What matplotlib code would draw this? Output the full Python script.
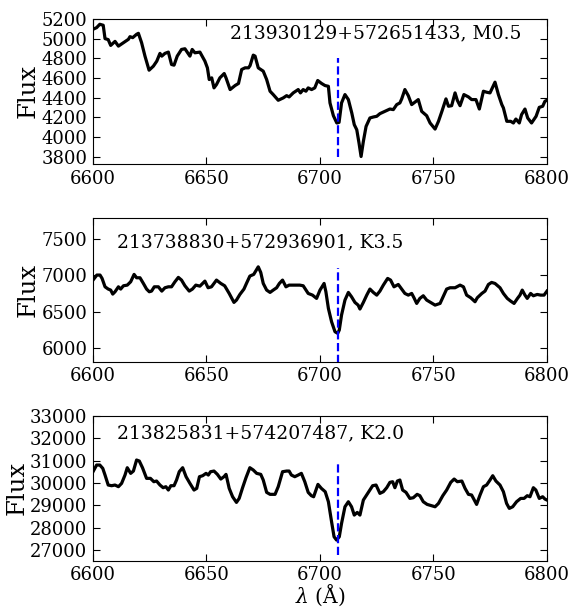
import matplotlib
matplotlib.use("Agg")
import matplotlib.pyplot as plt

plt.rcParams['font.family'] = ['DejaVu Serif']
plt.rcParams['mathtext.fontset'] = 'dejavuserif'

# Panel 1: 213930129+572651433, M0.5
wl1 = [6600, 6601.6, 6603, 6604.5, 6605.3, 6606.7, 6607.8, 6609.7, 6611.2, 6613.4, 6615.6, 6616.3,
       6617.5, 6619.2, 6620, 6621.4, 6622.9, 6624.7, 6626.6, 6628.1, 6629.5, 6630.3, 6631.7, 6633.2,
       6634.6, 6635.7, 6637.1, 6639, 6640.5, 6642.7, 6643.7, 6644.9, 6647.1, 6649.3, 6650.4, 6651.2,
       6652.3, 6653.3, 6654.4, 6655.9, 6657.8, 6658.6, 6660.4, 6662.6, 6664.1, 6665.5, 6667, 6668.5,
       6669.2, 6670.6, 6671.4, 6672.8, 6675, 6676.5, 6678, 6679.4, 6681.6, 6683.8, 6685.3, 6686.4,
       6688.2, 6690.4, 6691.4, 6692.6, 6693.8, 6694.8, 6696.3, 6697.7, 6699, 6700.7, 6702.2, 6703.7,
       6704.4, 6705.9, 6707.4, 6708.4, 6709.5, 6711, 6712.5, 6714, 6715.1, 6716.2, 6717.2, 6718.1,
       6719.1, 6720.3, 6722, 6723.5, 6725, 6726.4, 6728.6, 6730.8, 6732.3, 6733.8, 6735.2, 6736,
       6737.4, 6738.9, 6740.4, 6741.8, 6743.3, 6744.8, 6747, 6748.5, 6750.7, 6752.2, 6753.7, 6755.5,
       6756.6, 6758, 6759.5, 6760.5, 6761.7, 6763.4, 6765.4, 6766.8, 6768.7, 6770.2, 6772, 6773.4,
       6774.9, 6777.1, 6778.6, 6780.1, 6780.8, 6782.3, 6784, 6785.2, 6786.3, 6787.8, 6788.8, 6790.3,
       6791.5, 6793.2, 6795.2, 6796.6, 6798.1, 6799.1, 6800]
flux1 = [5095, 5112, 5146, 5136, 5000, 4990, 4931, 4972, 4924, 4959, 4993, 5020,
         5010, 5044, 5054, 4959, 4822, 4679, 4720, 4771, 4850, 4822, 4850, 4863,
         4737, 4730, 4822, 4890, 4897, 4822, 4890, 4856, 4863, 4771, 4703, 4584,
         4601, 4499, 4533, 4601, 4645, 4601, 4482, 4523, 4544, 4686, 4703, 4703,
         4726, 4832, 4822, 4703, 4669, 4584, 4465, 4431, 4373, 4397, 4420, 4407,
         4448, 4482, 4448, 4482, 4465, 4499, 4482, 4499, 4574, 4544, 4523, 4515,
         4346, 4216, 4142, 4148, 4346, 4431, 4380, 4244, 4125, 4073, 3937, 3801,
         3954, 4107, 4193, 4203, 4210, 4237, 4260, 4284, 4278, 4329, 4346, 4387,
         4482, 4420, 4329, 4353, 4380, 4260, 4216, 4142, 4080, 4159, 4260, 4387,
         4312, 4318, 4448, 4373, 4318, 4431, 4407, 4380, 4380, 4284, 4465, 4455,
         4448, 4557, 4431, 4329, 4295, 4159, 4159, 4142, 4182, 4142, 4227, 4284,
         4193, 4142, 4210, 4301, 4312, 4363, 4373]

# Panel 2: 213738830+572936901, K3.5
wl2 = [6600, 6601.7, 6603.1, 6604, 6605.3, 6606.7, 6607.8, 6608.7, 6609.7, 6611.2, 6612.2, 6613.4,
       6615.1, 6616.6, 6618.1, 6619.2, 6620.7, 6622.2, 6623.6, 6624.8, 6625.8, 6627, 6628.8, 6630.3,
       6631.7, 6633.2, 6634.6, 6636.1, 6637.6, 6639, 6640.5, 6642.4, 6643.8, 6645.3, 6647.1, 6649.3,
       6650.7, 6652.2, 6654.4, 6656.3, 6658, 6660, 6662.1, 6663.2, 6664.7, 6666.5, 6667.6, 6669.1,
       6670.8, 6672.8, 6673.9, 6675, 6676.5, 6678, 6679.4, 6680.9, 6682.1, 6683.5, 6685, 6686.4,
       6687.9, 6689.3, 6691.1, 6692.6, 6694.8, 6696.7, 6698.5, 6700, 6701.8, 6702.6, 6703.7, 6705.1,
       6706.6, 6707.8, 6708.5, 6709.5, 6711, 6712.5, 6713.9, 6715.4, 6716.8, 6717.6, 6719.1, 6720.6,
       6722, 6723.5, 6725, 6726.4, 6727.9, 6729.8, 6731.1, 6732.6, 6734.5, 6736, 6737.4, 6738.9,
       6740.4, 6741.4, 6742.6, 6744, 6745.5, 6747, 6748.7, 6750.7, 6752.9, 6754.6, 6755.8, 6757.3,
       6759.5, 6761.7, 6763.2, 6764.6, 6766.4, 6768.3, 6769.3, 6771.3, 6772.7, 6774.2, 6775.6, 6777.1,
       6779.3, 6780.8, 6782.5, 6784, 6785.5, 6787, 6788.1, 6789.1, 6790.3, 6791.3, 6792.8, 6794,
       6795.7, 6797.2, 6798.7, 6800]
flux2 = [6934, 7003, 7003, 6957, 6842, 6811, 6797, 6742, 6774, 6842, 6811, 6856,
         6865, 6911, 7012, 6966, 6966, 6888, 6811, 6774, 6783, 6842, 6842, 6783,
         6829, 6842, 6842, 6911, 6971, 6934, 6856, 6783, 6811, 6865, 6851, 6920,
         6829, 6842, 6934, 6888, 6856, 6751, 6628, 6660, 6737, 6811, 6888, 6989,
         7012, 7116, 7039, 6888, 6797, 6765, 6797, 6829, 6888, 6934, 6842, 6865,
         6865, 6865, 6865, 6856, 6751, 6728, 6683, 6797, 6888, 6774, 6546, 6363,
         6226, 6204, 6249, 6455, 6660, 6765, 6705, 6628, 6591, 6537, 6628, 6728,
         6811, 6765, 6728, 6783, 6865, 6957, 6934, 6842, 6874, 6811, 6751, 6728,
         6751, 6692, 6614, 6683, 6719, 6660, 6628, 6591, 6614, 6728, 6811, 6829,
         6829, 6865, 6842, 6728, 6692, 6637, 6692, 6751, 6783, 6874, 6902, 6888,
         6829, 6751, 6683, 6646, 6614, 6683, 6728, 6797, 6728, 6683, 6751, 6719,
         6737, 6728, 6728, 6783]

# Panel 3: 213825831+574207487, K2.0
wl3 = [6600, 6601.6, 6603, 6604.3, 6605.3, 6606.7, 6608.2, 6609.7, 6611.2, 6612.6, 6614.1, 6615.1,
       6616.6, 6617.8, 6619.2, 6620.4, 6621.8, 6623.6, 6625.3, 6626.8, 6628, 6629.5, 6630.9, 6632.1,
       6633.2, 6634.3, 6635.7, 6636.8, 6638, 6639.5, 6641, 6642.7, 6644.5, 6645.7, 6646.9, 6648.3,
       6649.8, 6650.8, 6651.8, 6653.3, 6654.8, 6656.3, 6657.7, 6658.6, 6660, 6661.5, 6663.2, 6664.4,
       6665.9, 6667.4, 6669.1, 6670.6, 6672.1, 6673.9, 6675, 6676.5, 6678, 6680.2, 6681.6, 6683.5,
       6685.3, 6686.4, 6687.4, 6688.9, 6690.4, 6691.8, 6693.3, 6694.8, 6696.2, 6697.2, 6699.1, 6700.6,
       6702.3, 6703.7, 6705.1, 6706.2, 6707.3, 6708.5, 6709.5, 6711, 6712.5, 6713.9, 6715.1, 6716.4,
       6717.6, 6719.1, 6721.3, 6723.2, 6724.7, 6726.4, 6727.9, 6729.4, 6730.8, 6732, 6733, 6734.1,
       6735.2, 6736.4, 6737.9, 6739.6, 6741.1, 6742.8, 6744, 6745.5, 6747.2, 6749.2, 6750.7, 6752.2,
       6754.1, 6755.8, 6757.6, 6759.1, 6760.5, 6762.5, 6763.9, 6765.4, 6766.8, 6769, 6770.5, 6772,
       6773.4, 6774.9, 6776.1, 6777.5, 6779.3, 6780.8, 6782.2, 6783.4, 6784.9, 6786.6, 6788.4, 6789.9,
       6791.3, 6792.5, 6794, 6795.1, 6796.6, 6798.1, 6799.1, 6800]
flux3 = [30504, 30802, 30802, 30654, 30356, 29911, 29881, 29911, 29837, 29985, 30356, 30683,
         30431, 30534, 31025, 30980, 30683, 30208, 30208, 30059, 30089, 29911, 29792, 29837,
         29688, 29881, 29881, 30134, 30504, 30683, 30282, 29985, 29688, 29763, 30282, 30326,
         30431, 30356, 30504, 30534, 30386, 30178, 30282, 30386, 29763, 29389, 29137, 29315,
         29792, 30237, 30683, 30580, 30431, 30386, 30134, 29584, 29496, 29496, 29837, 30504,
         30534, 30534, 30356, 30282, 30356, 30431, 30059, 29584, 29436, 29389, 29940, 29763,
         29613, 29167, 28275, 27606, 27459, 27606, 28201, 28943, 29167, 28943, 28572, 28691,
         28572, 29241, 29584, 29881, 29911, 29539, 29613, 29792, 30029, 30059, 29792, 30089,
         30134, 29688, 29584, 29315, 29345, 29496, 29436, 29167, 29048, 28988, 28943, 29093,
         29436, 29688, 30029, 30178, 30059, 30089, 29763, 29496, 29466, 29048, 29466, 29837,
         29911, 30134, 30326, 30089, 29911, 29613, 29093, 28870, 28943, 29167, 29315, 29315,
         29436, 29389, 29792, 29688, 29315, 29389, 29286, 29241]

labels = ["213930129+572651433, M0.5", "213738830+572936901, K3.5", "213825831+574207487, K2.0"]
label_x = [6660.5, 6610.5, 6610.5]
label_y = [5003, 7386, 32006]
ylims = [(3725, 5200), (5815, 7790), (26540, 33000)]
yticks = [list(range(3800, 5201, 200)), [6000, 6500, 7000, 7500], list(range(27000, 33001, 1000))]
vline_ranges = [(3800, 4800), (5800, 7100), (26800, 31000)]
li_line = 6707.8
xticks = [6600, 6650, 6700, 6750, 6800]

fig = plt.figure(figsize=(5.73, 6.08), dpi=100)
boxes = [(0.1623, 0.7303, 0.7923, 0.2385),
         (0.1623, 0.4051, 0.7923, 0.2369),
         (0.1623, 0.0778, 0.7923, 0.2385)]

for i, (wl, fl) in enumerate([(wl1, flux1), (wl2, flux2), (wl3, flux3)]):
    ax = fig.add_axes(boxes[i])
    ax.plot(wl, fl, color='black', lw=2.3)
    ax.vlines(li_line, vline_ranges[i][0], vline_ranges[i][1], colors='blue',
              linestyles='--', lw=1.6)
    ax.set_xlim(6600, 6800)
    ax.set_ylim(*ylims[i])
    ax.set_xticks(xticks)
    ax.set_yticks(yticks[i])
    ax.tick_params(direction='in', top=True, right=True, labelsize=13, length=5, pad=4)
    ax.set_ylabel('Flux', fontsize=17.5, labelpad=1)
    ax.text(label_x[i], label_y[i], labels[i], fontsize=13.5, va='baseline', ha='left')

ax.set_xlabel(r'$\lambda$ (Å)', fontsize=14.5, labelpad=-1)

fig.savefig('out.png', dpi=100)
